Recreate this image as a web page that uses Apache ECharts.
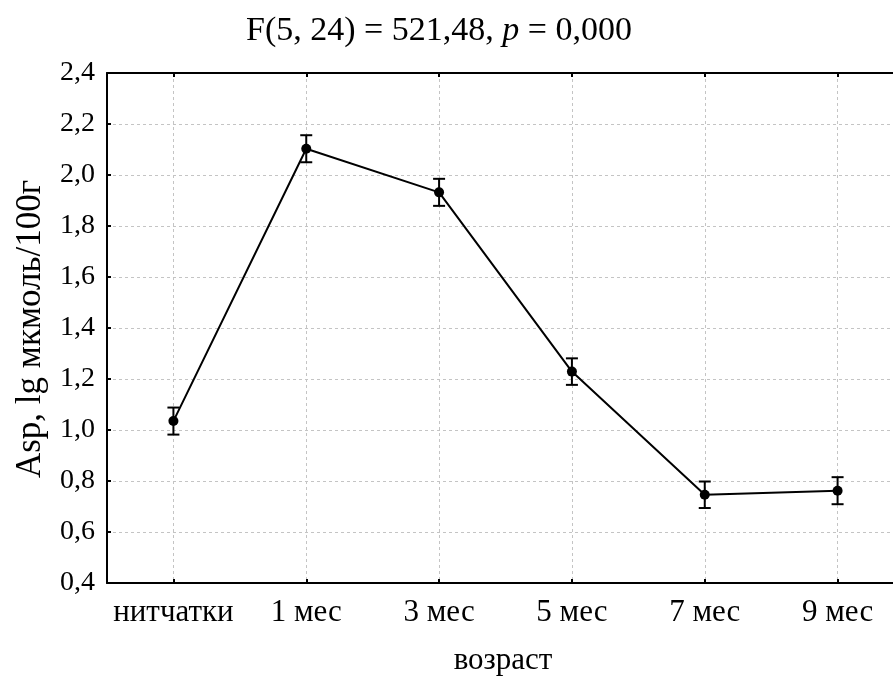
<!DOCTYPE html>
<html>
<head>
<meta charset="utf-8">
<script src="https://cdn.jsdelivr.net/npm/echarts@6/dist/echarts.min.js"></script>
<style>html,body{margin:0;padding:0;background:#fff}#c{width:893px;height:681px}</style>
</head>
<body>
<div id="c"></div>
<script>
const categories = ['нитчатки', '1 мес', '3 мес', '5 мес', '7 мес', '9 мес'];
const means = [1.035, 2.103, 1.932, 1.229, 0.746, 0.762];
const errors = [0.053, 0.053, 0.053, 0.052, 0.052, 0.053];
const yTicks = { min: 0.4, max: 2.4, interval: 0.2 };

const FONT = '"Liberation Serif", "Times New Roman", serif';
const chart = echarts.init(document.getElementById('c'), null, { renderer: 'canvas' });

const errData = means.map((m, i) => [i, m - errors[i], m + errors[i]]);

const axisLine = { show: true, lineStyle: { color: '#000', width: 2 } };
const grid = { left: 107, top: 73, bottom: 98, right: -11, outerBoundsMode: 'none', containLabel: false };

chart.setOption({
  animation: false,
  backgroundColor: '#fff',
  grid: grid,
  graphic: [
    {
      type: 'text', x: 439, y: 31,
      style: {
        text: '{n|F(5, 24) = 521,48, }{i|p}{n| = 0,000}',
        align: 'center', verticalAlign: 'middle',
        rich: {
          n: { fontFamily: FONT, fontSize: 34, fill: '#000' },
          i: { fontFamily: FONT, fontSize: 34, fontStyle: 'italic', fill: '#000' }
        }
      }
    },
    {
      type: 'text', x: 31, y: 329, rotation: Math.PI / 2,
      style: {
        text: 'Asp, lg мкмоль/100г', fontFamily: FONT, fontSize: 35, fill: '#000',
        align: 'center', verticalAlign: 'middle'
      }
    },
    {
      type: 'text', x: 503, y: 661,
      style: {
        text: 'возраст', fontFamily: FONT, fontSize: 31, fill: '#000',
        align: 'center', verticalAlign: 'middle'
      }
    }
  ],
  xAxis: [
    {
      type: 'category', data: categories, boundaryGap: true, position: 'bottom',
      axisLine: axisLine,
      axisTick: { show: true, inside: true, alignWithLabel: true, interval: 0, length: 4, lineStyle: { color: '#000', width: 2 } },
      axisLabel: { fontFamily: FONT, fontSize: 31, color: '#000', margin: 14, interval: 0, hideOverlap: false },
      splitLine: { show: true, alignWithLabel: true, interval: 0, lineStyle: { color: '#c4c4c4', type: [3, 3], width: 1 } }
    },
    {
      type: 'category', data: categories, boundaryGap: true, position: 'top',
      axisLine: axisLine,
      axisTick: { show: true, inside: true, alignWithLabel: true, interval: 0, length: 4, lineStyle: { color: '#000', width: 2 } },
      axisLabel: { show: false },
      splitLine: { show: false }
    }
  ],
  yAxis: {
    type: 'value', min: yTicks.min, max: yTicks.max, interval: yTicks.interval,
    axisLine: axisLine,
    axisTick: { show: true, inside: true, length: 4, lineStyle: { color: '#000', width: 2 } },
    axisLabel: {
      fontFamily: FONT, fontSize: 28, color: '#000', margin: 12,
      formatter: v => v.toFixed(1).replace('.', ',')
    },
    splitLine: { show: true, lineStyle: { color: '#c4c4c4', type: [3, 3], width: 1 } }
  },
  series: [
    {
      type: 'custom',
      data: errData,
      renderItem: function (params, api) {
        const x = api.value(0);
        const lo = api.coord([x, api.value(1)]);
        const hi = api.coord([x, api.value(2)]);
        const hw = 6;
        const st = { stroke: '#000', lineWidth: 2 };
        return {
          type: 'group',
          children: [
            { type: 'line', shape: { x1: lo[0], y1: lo[1], x2: hi[0], y2: hi[1] }, style: st },
            { type: 'line', shape: { x1: lo[0] - hw, y1: lo[1], x2: lo[0] + hw, y2: lo[1] }, style: st },
            { type: 'line', shape: { x1: hi[0] - hw, y1: hi[1], x2: hi[0] + hw, y2: hi[1] }, style: st }
          ]
        };
      },
      z: 3
    },
    {
      type: 'line', data: means,
      symbol: 'circle', symbolSize: 10,
      itemStyle: { color: '#000' },
      lineStyle: { color: '#000', width: 2 },
      z: 4
    }
  ]
});
</script>
</body>
</html>
